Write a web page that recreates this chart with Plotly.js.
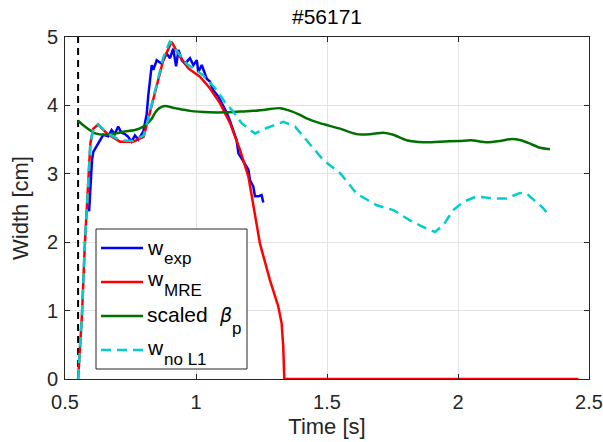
<!DOCTYPE html>
<html>
<head>
<meta charset="utf-8">
<script src="https://cdn.plot.ly/plotly-3.0.1.min.js"></script>
<style>html,body{margin:0;padding:0;background:#fff;}#chart{width:603px;height:442px;}</style>
</head>
<body>
<div id="chart"></div>
<script>
// ---- data ----
var titleText = "#56171";
var xTickVals = [0.5, 1, 1.5, 2, 2.5];
var yTickVals = [0, 1, 2, 3, 4, 5];

var markerT = [0.55, 0.55];
var markerW = [0, 5];

var expT = [0.592,0.597,0.603,0.608,0.621,0.634,0.646,0.665,0.678,0.690,0.703,0.716,0.729,0.741,0.754,0.767,0.780,0.799,0.806,0.812,0.818,0.825,0.831,0.837,0.850,0.869,0.888,0.901,0.913,0.924,0.933,0.946,0.958,0.977,0.990,1.003,1.009,1.022,1.041,1.053,1.066,1.085,1.104,1.115,1.128,1.142,1.155,1.162,1.174,1.187,1.200,1.206,1.219,1.225,1.238,1.250,1.257];
var expW = [2.45,2.90,3.20,3.32,3.40,3.49,3.57,3.55,3.64,3.58,3.69,3.60,3.58,3.54,3.47,3.56,3.50,3.62,3.75,3.88,4.15,4.40,4.59,4.52,4.66,4.61,4.76,4.69,4.83,4.57,4.81,4.66,4.61,4.69,4.59,4.66,4.49,4.59,4.39,4.35,4.22,4.13,4.00,3.91,3.79,3.62,3.49,3.30,3.22,3.15,3.06,2.91,2.81,2.67,2.67,2.69,2.58];

var mreT = [0.550,0.565,0.576,0.588,0.597,0.608,0.627,0.660,0.710,0.760,0.800,0.817,0.850,0.875,0.907,0.939,0.971,1.015,1.053,1.092,1.130,1.168,1.200,1.225,1.244,1.282,1.314,1.327,1.333,1.337,2.46];
var mreW = [0,0.96,1.99,2.91,3.45,3.66,3.72,3.59,3.47,3.47,3.54,3.79,4.27,4.66,4.93,4.71,4.54,4.42,4.25,4.03,3.74,3.35,2.96,2.40,1.98,1.45,1.06,0.81,0.47,0,0];

var betaT = [0.549,0.576,0.615,0.653,0.691,0.729,0.767,0.799,0.810,0.830,0.845,0.860,0.880,0.920,0.977,1.050,1.120,1.168,1.220,1.270,1.320,1.360,1.397,1.422,1.473,1.550,1.613,1.664,1.715,1.753,1.804,1.868,1.930,2.008,2.050,2.110,2.160,2.205,2.240,2.275,2.313,2.351];
var betaW = [3.78,3.69,3.59,3.57,3.59,3.62,3.64,3.69,3.72,3.80,3.90,3.96,3.99,3.96,3.92,3.90,3.90,3.91,3.92,3.94,3.96,3.92,3.86,3.81,3.74,3.66,3.58,3.58,3.60,3.57,3.49,3.46,3.47,3.48,3.49,3.46,3.48,3.51,3.49,3.44,3.38,3.36];

var noL1T = [0.550,0.565,0.576,0.588,0.597,0.608,0.625,0.660,0.710,0.760,0.800,0.817,0.850,0.875,0.900,0.930,0.964,1.027,1.078,1.110,1.142,1.174,1.225,1.270,1.333,1.378,1.422,1.486,1.550,1.613,1.690,1.753,1.817,1.868,1.912,1.944,1.982,2.020,2.071,2.135,2.185,2.237,2.262,2.300,2.325,2.351];
var noL1W = [0,0.96,1.99,2.91,3.45,3.66,3.72,3.60,3.49,3.48,3.56,3.79,4.30,4.70,4.93,4.78,4.61,4.44,4.23,4.05,3.91,3.74,3.59,3.67,3.76,3.69,3.49,3.20,3.01,2.71,2.54,2.47,2.32,2.22,2.15,2.25,2.47,2.59,2.67,2.64,2.64,2.72,2.71,2.59,2.50,2.37];

var legendMain = ["w", "w", "scaled", "w"];
var legendSub = ["exp", "MRE", "", "no L1"];
var betaMain = "β";
var betaSub = "p";

// ---- styles ----
var FONT = "Liberation Sans, Arial, Helvetica, sans-serif";
var colors = {exp: "#0000ff", mre: "#ff0000", beta: "#007000", noL1: "#00cdcd"};
var W = 2.5;

var traces = [
  {x: markerT, y: markerW, mode: "lines", line: {color: "#000000", width: 2, dash: "7px,5px"}, hoverinfo: "skip"},
  {x: expT, y: expW, mode: "lines", line: {color: colors.exp, width: W}},
  {x: mreT, y: mreW, mode: "lines", line: {color: colors.mre, width: W}},
  {x: betaT, y: betaW, mode: "lines", line: {color: colors.beta, width: W, shape: "spline", smoothing: 0.6}},
  {x: noL1T, y: noL1W, mode: "lines", line: {color: colors.noL1, width: W, dash: "10px,6px"}}
];

// ---- custom legend (paper coords) ----
var L = 65, R = 589, T = 37, B = 379;
function px(x){ return (x - L) / (R - L); }
function py(y){ return (B - y) / (B - T); }
var legLineY = [248, 282, 316, 350];
var legMainY = [247, 278, 314, 347];
var legSubY = [258, 290, 0, 359];
var legColors = [colors.exp, colors.mre, colors.beta, colors.noL1];
var legDash = ["solid", "solid", "solid", "10px,6px"];

var shapes = [{type: "rect", xref: "paper", yref: "paper", x0: px(96), x1: px(247), y0: py(369), y1: py(229),
  fillcolor: "#ffffff", line: {color: "#262626", width: 1}, layer: "above"}];
var annotations = [];
for (var i = 0; i < legendMain.length; i++) {
  shapes.push({type: "line", xref: "paper", yref: "paper", x0: px(101), x1: px(143), y0: py(legLineY[i]), y1: py(legLineY[i]),
    line: {color: legColors[i], width: W, dash: legDash[i]}, layer: "above"});
  annotations.push({xref: "paper", yref: "paper", x: px(145), y: py(legMainY[i]), xanchor: "left", yanchor: "middle",
    text: legendMain[i], showarrow: false, font: {family: FONT, size: 21, color: "#000000"}});
  if (legendSub[i]) {
    annotations.push({xref: "paper", yref: "paper", x: px(162), y: py(legSubY[i]), xanchor: "left", yanchor: "middle",
      text: legendSub[i], showarrow: false, font: {family: FONT, size: 17, color: "#000000"}});
  }
}
annotations.push({xref: "paper", yref: "paper", x: px(217), y: py(315), xanchor: "left", yanchor: "middle",
  text: "<i>" + betaMain + "</i>", showarrow: false, font: {family: "DejaVu Sans, sans-serif", size: 19, color: "#000000"}});
annotations.push({xref: "paper", yref: "paper", x: px(230), y: py(328), xanchor: "left", yanchor: "middle",
  text: betaSub, showarrow: false, font: {family: FONT, size: 17, color: "#000000"}});

var axisCommon = {
  showline: true, mirror: "ticks", linecolor: "#262626", linewidth: 1,
  ticks: "inside", ticklen: 5, tickwidth: 1, tickcolor: "#262626",
  showgrid: true, gridcolor: "#e3e3e3", gridwidth: 1, zeroline: false,
  tickfont: {family: FONT, size: 20, color: "#262626"}
};

var layout = {
  width: 603, height: 442,
  margin: {l: L, r: 603 - R, t: T, b: 442 - B, pad: 0},
  paper_bgcolor: "#ffffff", plot_bgcolor: "#ffffff",
  showlegend: false,
  font: {family: FONT, color: "#262626"},
  title: {text: titleText, x: 0.5, xref: "paper", y: 1 - 17 / 442, yref: "container", yanchor: "middle",
    font: {family: FONT, size: 21, color: "#000000"}},
  xaxis: Object.assign({}, axisCommon, {range: [0.5, 2.5], tickmode: "array", tickvals: xTickVals,
    ticklabelstandoff: 5,
    title: {text: "Time [s]", font: {family: FONT, size: 22, color: "#262626"}, standoff: 6}}),
  yaxis: Object.assign({}, axisCommon, {range: [0, 5], tickmode: "array", tickvals: yTickVals,
    ticklabelstandoff: 2,
    title: {text: "Width [cm]", font: {family: FONT, size: 22, color: "#262626"}, standoff: 12}}),
  shapes: shapes,
  annotations: annotations
};

Plotly.newPlot("chart", traces, layout, {displayModeBar: false, staticPlot: true});
</script>
</body>
</html>
